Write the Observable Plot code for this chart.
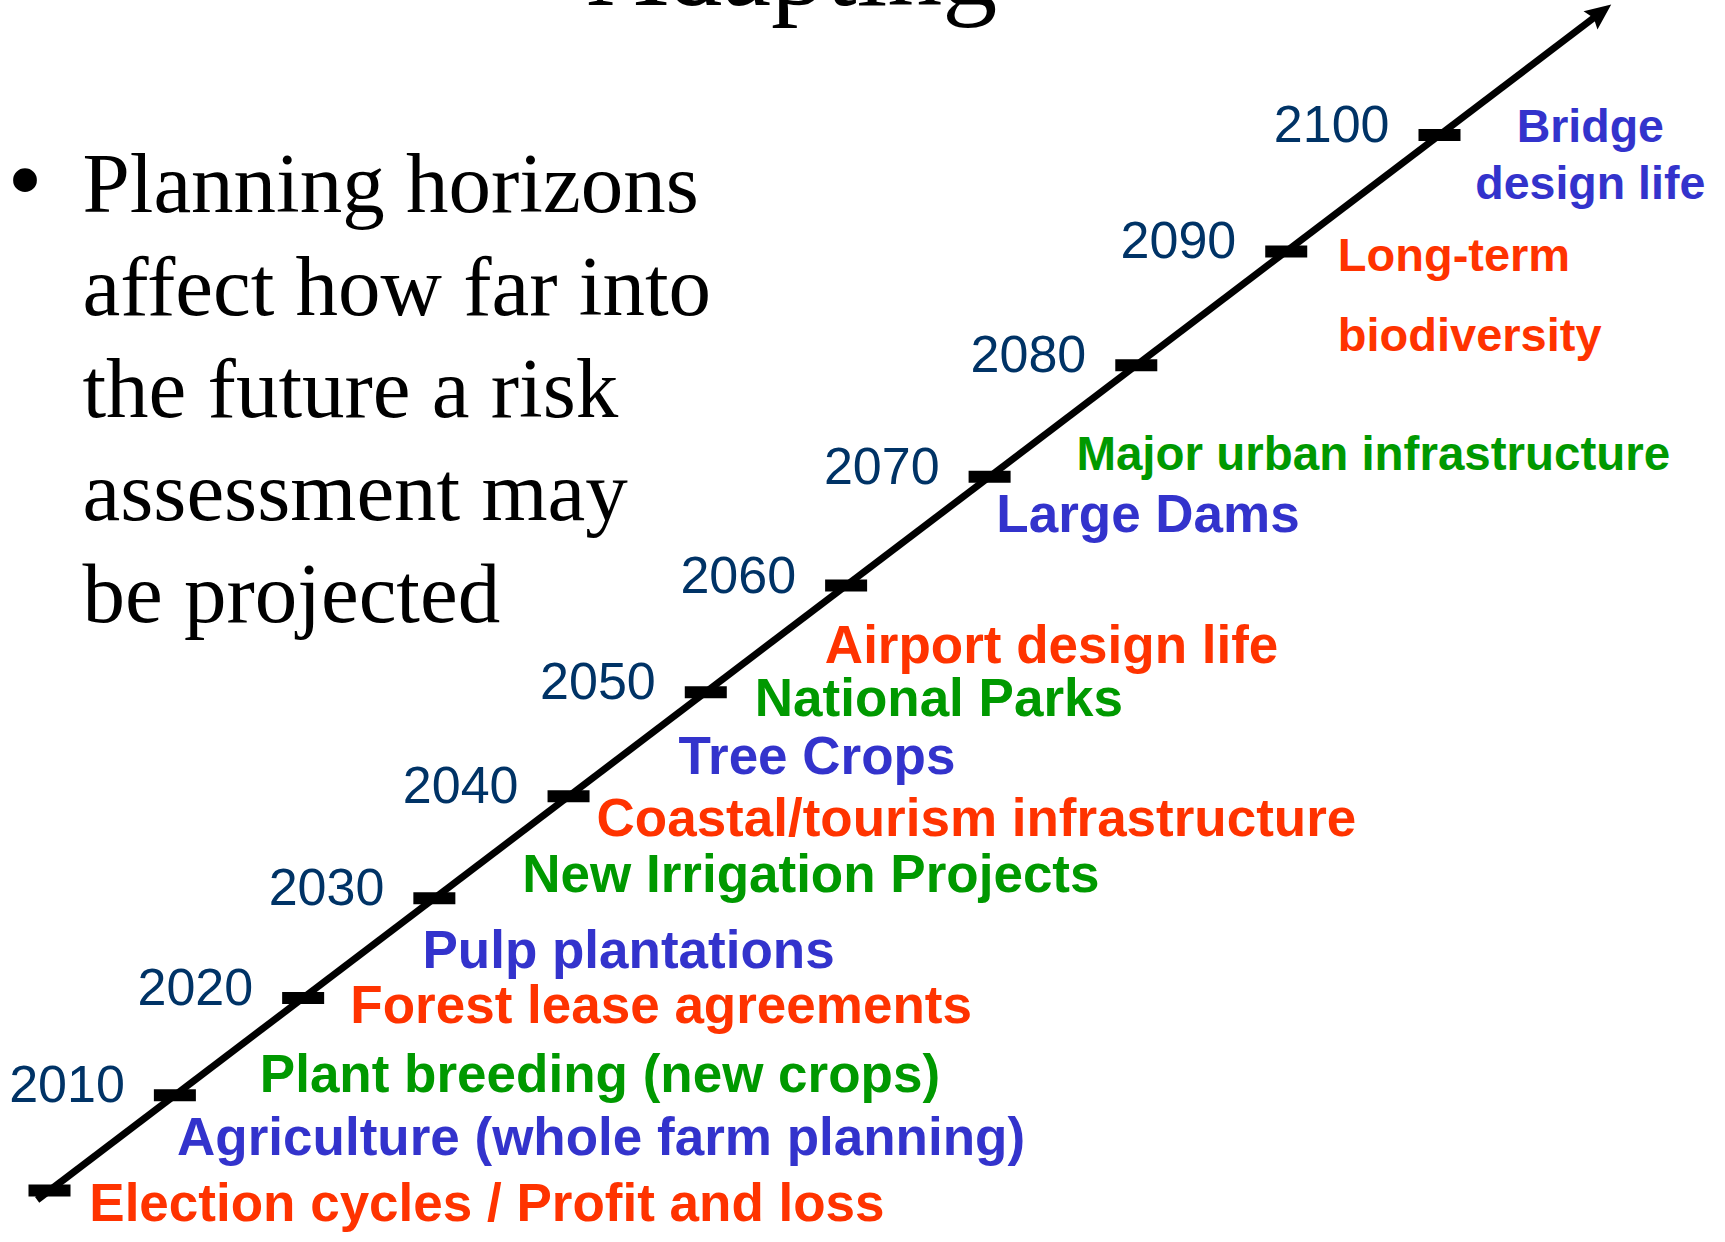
<!DOCTYPE html>
<html>
<head>
<meta charset="utf-8">
<script src="https://cdn.jsdelivr.net/npm/d3@7"></script>
<script src="https://cdn.jsdelivr.net/npm/@observablehq/plot@0.6"></script>
<style>
  html, body { margin: 0; padding: 0; background: #ffffff; overflow: hidden; }
  #chart svg { display: block; }
</style>
</head>
<body>
<div id="chart"></div>
<script>
// ---------------- data ----------------
const titleText = "Adapting";
const bulletLines = [
  "Planning horizons",
  "affect how far into",
  "the future a risk",
  "assessment may",
  "be projected"
];
const tickYears = [2000, 2010, 2020, 2030, 2040, 2050, 2060, 2070, 2080, 2090, 2100];
const yearLabels = ["2010", "2020", "2030", "2040", "2050", "2060", "2070", "2080", "2090", "2100"];
const timelineExtent = [1999, 2110.5];
const itemLabels = [
  "Election cycles / Profit and loss",
  "Agriculture (whole farm planning)",
  "Plant breeding (new crops)",
  "Forest lease agreements",
  "Pulp plantations",
  "New Irrigation Projects",
  "Coastal/tourism infrastructure",
  "Tree Crops",
  "National Parks",
  "Airport design life",
  "Large Dams",
  "Major urban infrastructure",
  "Long-term\nbiodiversity",
  "Bridge\ndesign life"
];
const itemYears = [2001.5, 2008.5, 2015, 2022, 2027.5, 2035, 2040.5, 2046.5, 2052, 2057, 2069, 2074.5, 2092, 2103];

// ---------------- layout / style ----------------
const W = 1725, H = 1242;
const X0 = 49, X1 = 1439, Y0 = 1190, Y1 = 134.5, EXP = 5.573;
const SANS = "Liberation Sans, Arial, Helvetica, sans-serif";
const SERIF = "Liberation Serif, 'Times New Roman', Times, serif";
const NAVY = "#003366";
const PALETTE = ["#FF3300", "#3333CC", "#009900"];
const NEAR = 53, FAR = 47.5;

const items = itemLabels.map((label, i) => ({label, year: itemYears[i]}));
const colorOf = (d) => PALETTE[items.indexOf(d) % 3];

// direction of the timeline (for arrowhead and label offset)
const len = Math.hypot(X1 - X0, Y1 - Y0);
const ux = (X1 - X0) / len, uy = (Y1 - Y0) / len;
const nx = -uy, ny = ux;
const OFF = 35;
const DX = OFF * nx, DY = OFF * ny;

const tickSymbol = {
  draw(ctx) {
    ctx.moveTo(-21, -6); ctx.lineTo(21, -6); ctx.lineTo(21, 6); ctx.lineTo(-21, 6); ctx.closePath();
  }
};
const headSymbol = {
  draw(ctx) {
    const pt = (a, p) => [a * ux + p * nx, a * uy + p * ny];
    const tip = pt(9, 0), l = pt(-17, 11.5), m = pt(-13, 0), r = pt(-17, -11.5);
    ctx.moveTo(tip[0], tip[1]); ctx.lineTo(l[0], l[1]); ctx.lineTo(m[0], m[1]); ctx.lineTo(r[0], r[1]); ctx.closePath();
  }
};

const LH_LONG = 80 / 47, FS_LONG = 47;
const LH_BRIDGE = 57 / 46.5, FS_BRIDGE = 46.5;
const FS_BODY = 85, LH_BODY = 102.6 / 85;

const chart = Plot.plot({
  width: W,
  height: H,
  margin: 0,
  x: {type: "pow", exponent: EXP, domain: [2000, 2100], range: [X0, X1], axis: null},
  y: {type: "pow", exponent: EXP, domain: [2000, 2100], range: [Y0, Y1], axis: null},
  style: {background: "#ffffff"},
  marks: [
    // timeline shaft
    Plot.link([timelineExtent], {
      x1: d => d[0], y1: d => d[0],
      x2: d => d[1], y2: d => d[1],
      stroke: "black", strokeWidth: 7
    }),
    // decade ticks
    Plot.dot(tickYears, {x: d => d, y: d => d, symbol: tickSymbol, fill: "black", stroke: "none"}),
    // arrowhead
    Plot.dot([timelineExtent[1]], {x: d => d, y: d => d, symbol: headSymbol, fill: "black", stroke: "none"}),
    // year labels
    Plot.text(yearLabels, {
      x: d => +d, y: d => +d, text: d => d,
      textAnchor: "end", lineAnchor: "bottom", dx: -50, dy: 7,
      fontSize: 52, fontFamily: SANS, fill: NAVY
    }),
    // single-line items
    Plot.text(items.filter(d => !d.label.includes("\n")), {
      x: "year", y: "year", text: "label",
      textAnchor: "start", lineAnchor: "middle", dx: DX, dy: DY,
      fontSize: d => (d.year > 2072 ? FAR : NEAR), fontWeight: "bold", fontFamily: SANS,
      fill: colorOf
    }),
    // Long-term biodiversity
    Plot.text(items.filter(d => d.label.startsWith("Long")), {
      x: "year", y: "year", text: "label",
      textAnchor: "start", lineAnchor: "top", lineHeight: LH_LONG,
      dx: DX, dy: DY + 0.32 * FS_LONG - 0.71 * LH_LONG * FS_LONG,
      fontSize: FS_LONG, fontWeight: "bold", fontFamily: SANS, fill: colorOf
    }),
    // Bridge design life (centred text box)
    Plot.text(items.filter(d => d.label.startsWith("Bridge")), {
      x: "year", y: "year", text: "label",
      textAnchor: "middle", lineAnchor: "top", lineHeight: LH_BRIDGE,
      dx: DX + 83, dy: DY + 0.32 * FS_BRIDGE - 0.71 * LH_BRIDGE * FS_BRIDGE,
      fontSize: FS_BRIDGE, fontWeight: "bold", fontFamily: SANS, fill: colorOf
    }),
    // slide title (cut off at top edge)
    Plot.text([titleText], {
      frameAnchor: "top-left", text: d => d, dx: 792, dy: 4,
      textAnchor: "middle", lineAnchor: "bottom",
      fontSize: 110, fontFamily: SERIF, fill: "black"
    }),
    // bullet body text
    Plot.text([bulletLines.join("\n")], {
      frameAnchor: "top-left", text: d => d, dx: 82, dy: 211.5 - 0.71 * LH_BODY * FS_BODY,
      textAnchor: "start", lineAnchor: "top", lineHeight: LH_BODY,
      fontSize: FS_BODY, fontFamily: SERIF, fill: "black"
    }),
    Plot.text(["\u2022"], {
      frameAnchor: "top-left", text: d => d, dx: 7, dy: 212,
      textAnchor: "start", lineAnchor: "bottom",
      fontSize: 100, fontFamily: SERIF, fill: "black"
    })
  ]
});
document.getElementById("chart").appendChild(chart);
</script>
</body>
</html>
